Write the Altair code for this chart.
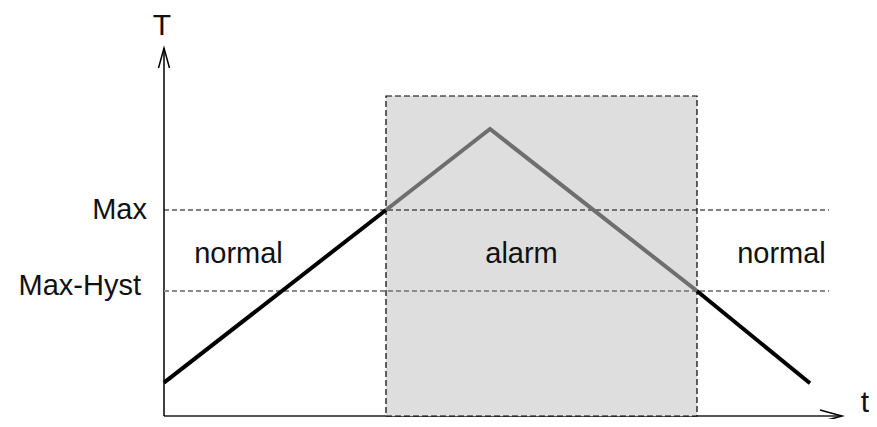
import altair as alt
import pandas as pd

# ---- data (t and T in arbitrary units) ----
line_t = [0.0, 22.2, 22.2, 32.6, 53.3, 53.3, 64.6]
line_T = [3.33, 20.6, 20.6, 28.7, 12.5, 12.5, 3.27]
line_seg = ["normal1", "normal1", "alarm", "alarm", "alarm", "normal2", "normal2"]
line_state = ["normal", "normal", "alarm", "alarm", "alarm", "normal", "normal"]

alarm_t0, alarm_t1, alarm_top = 22.2, 53.3, 32.0
max_T, hyst_T = 20.6, 12.5
thr_t_end = 66.5

yaxis_top = 36.8
xaxis_end = 67.8

labels_text = ["normal", "alarm", "normal"]
labels_t = [7.45, 35.75, 61.75]
labels_T = [15.3, 15.3, 15.3]

thr_labels = ["Max", "Max-Hyst"]
thr_label_t = [-1.7, -2.3]
thr_label_T = [19.7, 12.1]

W, H = 861, 411
xs = alt.Scale(domain=[-15.6, 70.5], nice=False, zero=False)
ys = alt.Scale(domain=[-0.3, 40.8], nice=False, zero=False)
X = lambda f: alt.X(f, type="quantitative", scale=xs, axis=None)
Y = lambda f: alt.Y(f, type="quantitative", scale=ys, axis=None)

ax_df = pd.DataFrame({"z": [0.0], "ytop": [yaxis_top], "xend": [xaxis_end]})
yaxis = alt.Chart(ax_df).mark_rule(color="black", strokeWidth=1.5).encode(
    x=X("z"), y=Y("z"), y2="ytop")
xaxis = alt.Chart(ax_df).mark_rule(color="#555555", strokeWidth=2).encode(
    x=X("z"), x2="xend", y=Y("z"))

rect_df = pd.DataFrame({"t0": [alarm_t0], "t1": [alarm_t1], "T0": [0.0], "T1": [alarm_top]})
rect = alt.Chart(rect_df).mark_rect(fill="#dedede", stroke="black", strokeWidth=1.2,
                                    strokeDash=[6, 3]).encode(
    x=X("t0"), x2="t1", y=Y("T0"), y2="T1")

thr_df = pd.DataFrame({"t0": [0.0], "t1": [thr_t_end], "max": [max_T], "hyst": [hyst_T]})
max_rule = alt.Chart(thr_df).mark_rule(color="black", strokeWidth=1.2, strokeDash=[5, 3]).encode(
    x=X("t0"), x2="t1", y=Y("max"))
hyst_rule = alt.Chart(thr_df).mark_rule(color="#8a8a8a", strokeWidth=2, strokeDash=[5, 3]).encode(
    x=X("t0"), x2="t1", y=Y("hyst"))

arrow_df = pd.DataFrame({
    "t": [-0.55, 0.0, 0.55, xaxis_end - 2.2, xaxis_end, xaxis_end - 2.2],
    "T": [yaxis_top - 2.0, yaxis_top, yaxis_top - 2.0, 0.6, 0.0, -0.6],
    "g": ["y", "y", "y", "x", "x", "x"],
    "o": [0, 1, 2, 0, 1, 2],
})
arrows = alt.Chart(arrow_df).mark_line(color="black", strokeWidth=1.5).encode(
    x=X("t"), y=Y("T"), detail="g:N", order="o:Q")

line_df = pd.DataFrame({"t": line_t, "T": line_T, "seg": line_seg, "state": line_state,
                        "o": list(range(len(line_t)))})
curve = alt.Chart(line_df).mark_line(strokeWidth=4, strokeJoin="miter").encode(
    x=X("t"), y=Y("T"), detail="seg:N", order="o:Q",
    color=alt.Color("state:N", scale=alt.Scale(domain=["normal", "alarm"],
                                               range=["black", "#6e6e6e"]), legend=None))

font = "Liberation Sans"
lab_df = pd.DataFrame({"text": labels_text, "t": labels_t, "T": labels_T})
labels = alt.Chart(lab_df).mark_text(font=font, fontSize=29, color="#111111",
                                     align="center", baseline="alphabetic").encode(
    x=X("t"), y=Y("T"), text="text:N")

thr_lab_df = pd.DataFrame({"text": thr_labels, "t": thr_label_t, "T": thr_label_T})
thr_labs = alt.Chart(thr_lab_df).mark_text(font=font, fontSize=29, color="#111111",
                                           align="right", baseline="alphabetic").encode(
    x=X("t"), y=Y("T"), text="text:N")

axlab_df = pd.DataFrame({"text": ["T", "t"], "t": [-0.2, 70.1], "T": [38.1, 0.45]})
axlabs = alt.Chart(axlab_df).mark_text(font=font, fontSize=30, color="#111111",
                                       align="center", baseline="alphabetic").encode(
    x=X("t"), y=Y("T"), text="text:N")

chart = alt.layer(xaxis, yaxis, rect, max_rule, hyst_rule, arrows, curve,
                  labels, thr_labs, axlabs).properties(
    width=W, height=H, padding=0,
    autosize=alt.AutoSizeParams(type="none")
).configure_view(stroke=None)

chart.save("out.html", embed_options={"renderer": "svg", "actions": False})
